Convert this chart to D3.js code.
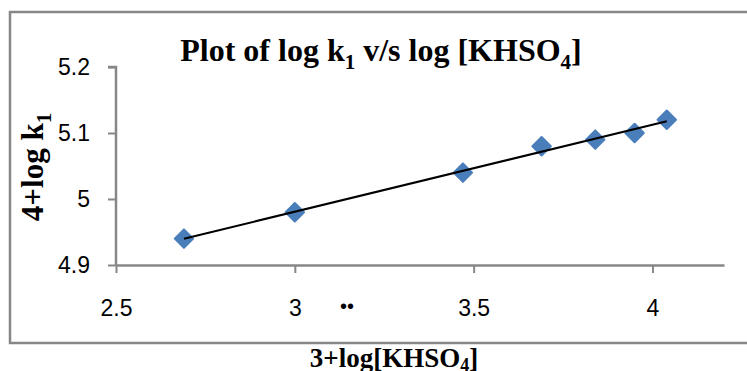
<!DOCTYPE html>
<html><head><meta charset="utf-8">
<script src="https://cdn.jsdelivr.net/npm/d3@7"></script>
<style>
html,body{margin:0;padding:0;background:#fff;}
svg{display:block;}
</style></head>
<body>
<svg id="chart" width="747" height="371"></svg>
<script>
const xValues = [2.69, 3.00, 3.47, 3.69, 3.84, 3.95, 4.04];
const yValues = [4.94, 4.98, 5.04, 5.08, 5.09, 5.10, 5.12];
const xTicks = [2.5, 3, 3.5, 4];
const yTicks = [4.9, 5, 5.1, 5.2];
const xDomain = [2.5, 4.2];
const yDomain = [4.9, 5.2];

const svg = d3.select("#chart");
const x = d3.scaleLinear().domain(xDomain).range([116, 724]);
const y = d3.scaleLinear().domain(yDomain).range([265, 67]);

// frame
svg.append("rect").attr("x", 10).attr("y", 12).attr("width", 780).attr("height", 331)
  .attr("fill", "none").attr("stroke", "#878787").attr("stroke-width", 2.5);

// axes
const xAxis = svg.append("g").attr("transform", "translate(0,265)")
  .call(d3.axisBottom(x).tickValues(xTicks).tickFormat(d3.format("")).tickSize(8).tickSizeOuter(0));
const yAxis = svg.append("g").attr("transform", "translate(116,0)")
  .call(d3.axisLeft(y).tickValues(yTicks).tickFormat(d3.format("")).tickSize(8).tickSizeOuter(0).tickPadding(18));
[xAxis, yAxis].forEach(g => {
  g.select(".domain").attr("stroke", "#878787").attr("stroke-width", 2.5);
  g.selectAll(".tick line").attr("stroke", "#878787").attr("stroke-width", 2);
  g.selectAll(".tick text").attr("font-family", "Liberation Sans, Arial, sans-serif")
    .attr("font-size", 23).attr("fill", "#000");
});
yAxis.select(".domain").attr("d", `M-8,${y(5.2)}H0V${y(4.9)}`);
xAxis.selectAll(".tick text").attr("dy", "0.35em").attr("y", 43);

// stray dots text
svg.append("text").attr("x", 347).attr("y", 313).attr("text-anchor", "middle")
  .attr("font-family", "Liberation Sans, Arial, sans-serif").attr("font-size", 20).text("••");

// trend line (least squares)
const n = xValues.length;
const mx = d3.mean(xValues), my = d3.mean(yValues);
let sxy = 0, sxx = 0;
for (let i = 0; i < n; i++) { sxy += (xValues[i]-mx)*(yValues[i]-my); sxx += (xValues[i]-mx)**2; }
const slope = sxy / sxx, icpt = my - slope * mx;
const x0 = d3.min(xValues), x1 = d3.max(xValues);

// markers
const pts = xValues.map((v, i) => [v, yValues[i]]);
const diamond = d3.symbol().type(d3.symbolSquare).size(170);
svg.append("g").selectAll("path").data(pts).join("path")
  .attr("d", diamond)
  .attr("transform", d => `translate(${x(d[0])},${y(d[1])}) rotate(45)`)
  .attr("fill", "#4a7ebb").attr("stroke", "#4a7ebb").attr("stroke-width", 2).attr("stroke-linejoin", "round");

svg.append("line")
  .attr("x1", x(x0)).attr("y1", y(slope*x0+icpt))
  .attr("x2", x(x1)).attr("y2", y(slope*x1+icpt))
  .attr("stroke", "#000").attr("stroke-width", 2);

// title
const title = svg.append("text").attr("x", 381).attr("y", 61).attr("text-anchor", "middle")
  .attr("font-family", "Liberation Serif, Times New Roman, serif").attr("font-weight", "bold").attr("font-size", 32);
title.append("tspan").text("Plot of log k");
title.append("tspan").attr("dy", 8).attr("font-size", 21).text("1");
title.append("tspan").attr("dy", -8).text(" v/s log [KHSO");
title.append("tspan").attr("dy", 8).attr("font-size", 21).text("4");
title.append("tspan").attr("dy", -8).text("]");

// y label
const yl = svg.append("text").attr("transform", "translate(43,167) rotate(-90)").attr("text-anchor", "middle")
  .attr("font-family", "Liberation Serif, Times New Roman, serif").attr("font-weight", "bold").attr("font-size", 31);
yl.append("tspan").text("4+log k");
yl.append("tspan").attr("dy", 8).attr("font-size", 21).text("1");

// x label
const xl = svg.append("text").attr("x", 394).attr("y", 367).attr("text-anchor", "middle")
  .attr("font-family", "Liberation Serif, Times New Roman, serif").attr("font-weight", "bold").attr("font-size", 27);
xl.append("tspan").text("3+log[KHSO");
xl.append("tspan").attr("dy", 4).attr("font-size", 18).text("4");
xl.append("tspan").attr("dy", -4).text("]");
</script>
</body></html>
